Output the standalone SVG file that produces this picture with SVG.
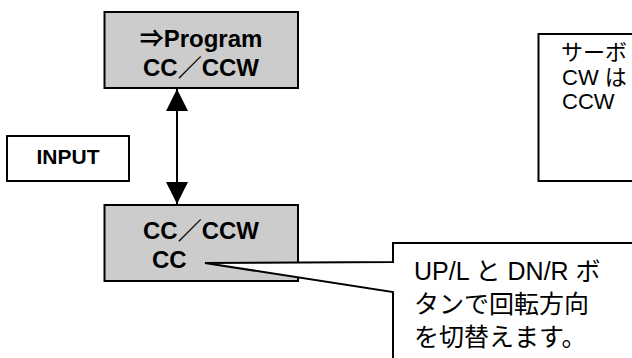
<svg xmlns="http://www.w3.org/2000/svg" width="632" height="358" viewBox="0 0 632 358">
<defs>
<style>
.box{fill:#cccccc;stroke:#000;stroke-width:2}
.wbox{fill:#fff;stroke:#000;stroke-width:2}
.bt{font-family:"Liberation Sans","Noto Sans CJK JP",sans-serif;font-weight:bold;font-size:24px;fill:#000}
.rt{font-family:"Liberation Sans","Noto Sans CJK JP",sans-serif;font-size:22px;fill:#000}
.ct{font-family:"Liberation Sans","Noto Sans CJK JP",sans-serif;font-size:25px;fill:#000}
.conn{stroke:#000;stroke-width:2;fill:none}
</style>
<marker id="ah" viewBox="0 0 22 22" refX="22" refY="11" markerWidth="22" markerHeight="22" markerUnits="userSpaceOnUse" orient="auto-start-reverse">
<path d="M0,0 L22,11 L0,22 Z" fill="#000"/>
</marker>
</defs>
<rect width="632" height="358" fill="#fff"/>
<g id="node-program">
<rect class="box" x="104.5" y="12" width="193.5" height="76"/>
<text class="bt" x="201" y="47" text-anchor="middle">⇒Program</text>
<text class="bt" x="201" y="76" text-anchor="middle">CC／CCW</text>
</g>
<g id="node-input">
<rect class="wbox" x="7" y="136" width="122" height="45"/>
<text class="bt" x="68" y="164" text-anchor="middle" style="font-size:21px">INPUT</text>
</g>
<g id="node-cc">
<rect class="box" x="104.5" y="205" width="193.5" height="76"/>
<text class="bt" x="201" y="239" text-anchor="middle">CC／CCW</text>
<text class="bt" x="152" y="268">CC</text>
</g>
<g id="node-note">
<rect class="wbox" x="538.5" y="34" width="120" height="147"/>
<text class="rt" x="561" y="60">サーボ</text>
<text class="rt" x="562" y="85">CW は</text>
<text class="rt" x="562" y="109">CCW</text>
</g>
<g id="connectors">
<line class="conn" x1="177" y1="89" x2="177" y2="204" marker-start="url(#ah)" marker-end="url(#ah)"/>
</g>
<g id="node-callout">
<polygon points="393,243 640,243 640,360 393,360 393,292 205,263 393,262" fill="#fff"/>
<path class="conn" d="M640,243 H393 V262 L205,263 L393,292 V360"/>
<text class="ct" x="414" y="280">UP/L と DN/R ボ</text>
<text class="ct" x="414" y="313">タンで回転方向</text>
<text class="ct" x="414" y="346">を切替えます。</text>
</g>
</svg>
